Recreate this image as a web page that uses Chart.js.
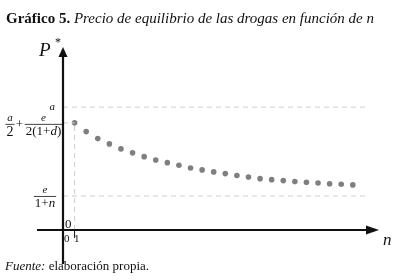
<!DOCTYPE html>
<html>
<head>
<meta charset="utf-8">
<script src="https://cdn.jsdelivr.net/npm/chart.js@4/dist/chart.umd.min.js"></script>
<style>
  html,body{margin:0;padding:0;background:#fff;}
  #wrap{width:398px;height:280px;}
</style>
</head>
<body>
<div id="wrap"><canvas id="c" width="398" height="280"></canvas></div>
<script>
// datos (unidades arbitrarias, eje en 0, a = 10)
const nValues = [1,2,3,4,5,6,7,8,9,10,11,12,13,14,15,16,17,18,19,20,21,22,23,24,25];
const priceValues = [8.72,8.01,7.44,7.01,6.60,6.28,5.97,5.70,5.48,5.27,5.05,4.89,4.73,4.59,4.43,4.32,4.18,4.10,4.02,3.94,3.89,3.83,3.77,3.72,3.67];
const aLevel = 10;        // a
const startLevel = 8.72;  // a/2 + e/(2(1+d))
const floorLevel = 2.77;  // e/(1+n)
const lineEnd = 26.2;
const xMax = 27, yMax = 14;

const serif = '"Liberation Serif", "DejaVu Serif", serif';
const grey = '#7f7f7f';
const dashCol = '#cfcfcf';

// texto con partes en cursiva (letras) y rectas (cifras)
function mixedWidth(ctx, parts, size){
  let w = 0;
  parts.forEach(p=>{ ctx.font = (p[1] ? 'italic ' : '') + size + 'px ' + serif; w += ctx.measureText(p[0]).width; });
  return w;
}
function drawMixed(ctx, parts, cx, y, size){
  let x = cx - mixedWidth(ctx, parts, size)/2;
  ctx.textAlign = 'left';
  parts.forEach(p=>{
    ctx.font = (p[1] ? 'italic ' : '') + size + 'px ' + serif;
    ctx.fillText(p[0], x, y);
    x += ctx.measureText(p[0]).width;
  });
}
function frac(ctx, num, den, cx, y, nSize, dSize){
  const w = Math.max(mixedWidth(ctx, num, nSize), mixedWidth(ctx, den, dSize)) + 2;
  drawMixed(ctx, num, cx, y - 3, nSize);
  drawMixed(ctx, den, cx, y + dSize - 2, dSize);
  ctx.lineWidth = 0.8;
  ctx.beginPath(); ctx.moveTo(cx - w/2, y + 0.5); ctx.lineTo(cx + w/2, y + 0.5); ctx.stroke();
}

const axesPlugin = {
  id:'axes',
  afterDraw(chart){
    const ctx = chart.ctx, xs = chart.scales.x, ys = chart.scales.y;
    const x0 = xs.getPixelForValue(0), y0 = ys.getPixelForValue(0);
    ctx.save();
    ctx.strokeStyle = '#111'; ctx.fillStyle = '#111';
    // ejes
    ctx.lineWidth = 2.2;
    ctx.beginPath();
    ctx.moveTo(x0, 264); ctx.lineTo(x0, 56);
    ctx.moveTo(37, y0); ctx.lineTo(368, y0);
    ctx.stroke();
    ctx.beginPath(); ctx.moveTo(x0, 47); ctx.lineTo(x0-4.5, 57); ctx.lineTo(x0+4.5, 57); ctx.closePath(); ctx.fill();
    ctx.beginPath(); ctx.moveTo(379, y0); ctx.lineTo(366, y0-4.5); ctx.lineTo(366, y0+4.5); ctx.closePath(); ctx.fill();
    // marca en n = 1
    const x1 = xs.getPixelForValue(1);
    ctx.lineWidth = 1;
    ctx.beginPath(); ctx.moveTo(x1, y0); ctx.lineTo(x1, y0+8); ctx.stroke();

    // etiquetas de ejes
    ctx.textBaseline = 'alphabetic';
    ctx.textAlign = 'left';
    ctx.font = 'italic 19px ' + serif;
    ctx.fillText('P', 39, 56);
    ctx.font = '12px ' + serif;
    ctx.fillText('*', 55, 46);
    ctx.font = 'italic 17px ' + serif;
    ctx.fillText('n', 383, 245);

    ctx.font = '13px ' + serif;
    ctx.fillText('0', 65, y0 - 2);
    ctx.font = '11px ' + serif;
    ctx.fillText('0', 64, y0 + 12);
    ctx.fillText('1', 74, y0 + 12);

    // etiquetas del eje vertical
    ctx.font = 'italic 11px ' + serif;
    ctx.textAlign = 'right';
    ctx.fillText('a', 55, ys.getPixelForValue(aLevel) + 3);
    const yb = ys.getPixelForValue(startLevel) + 1;
    frac(ctx, [['a',1]], [['2',0]], 10, yb, 11, 14);
    ctx.font = '13px ' + serif; ctx.textAlign = 'center';
    ctx.fillText('+', 19.5, yb + 4);
    frac(ctx, [['e',1]], [['2(1+',0],['d',1],[')',0]], 43.5, yb, 11, 13);
    frac(ctx, [['e',1]], [['1+',0],['n',1]], 45, ys.getPixelForValue(floorLevel), 11, 13);

    // título y fuente
    ctx.textAlign = 'left';
    ctx.font = 'bold 15px ' + serif;
    ctx.fillText('Gráfico 5.', 6, 23);
    const tw = ctx.measureText('Gráfico 5. ').width;
    ctx.font = 'italic 15px ' + serif;
    ctx.fillText('Precio de equilibrio de las drogas en función de n', 6 + tw, 23, 390 - 6 - tw);
    ctx.font = 'italic 13px ' + serif;
    ctx.fillText('Fuente:', 5, 270);
    const fw = ctx.measureText('Fuente: ').width;
    ctx.font = '13px ' + serif;
    ctx.fillText('elaboración propia.', 5 + fw, 270);
    ctx.restore();
  }
};

const dash = (pts) => ({
  type:'line', data:pts, borderColor:dashCol, borderWidth:1, borderDash:[5,4],
  pointRadius:0, fill:false, tension:0
});

new Chart(document.getElementById('c'), {
  type:'scatter',
  data:{
    datasets:[
      dash([{x:0,y:aLevel},{x:lineEnd,y:aLevel}]),
      dash([{x:0,y:floorLevel},{x:lineEnd,y:floorLevel}]),
      dash([{x:1,y:0},{x:1,y:startLevel}]),
      dash([{x:0,y:startLevel},{x:1,y:startLevel}]),
      {
        type:'scatter',
        data:nValues.map((n,i)=>({x:n, y:priceValues[i]})),
        backgroundColor:grey, borderColor:grey, pointRadius:2.8, borderWidth:0
      }
    ]
  },
  options:{
    responsive:false, animation:false,
    layout:{padding:{left:63, right:22, top:58, bottom:50}},
    plugins:{legend:{display:false}, tooltip:{enabled:false}},
    scales:{
      x:{type:'linear', display:false, min:0, max:xMax},
      y:{type:'linear', display:false, min:0, max:yMax}
    }
  },
  plugins:[axesPlugin]
});
</script>
</body>
</html>
